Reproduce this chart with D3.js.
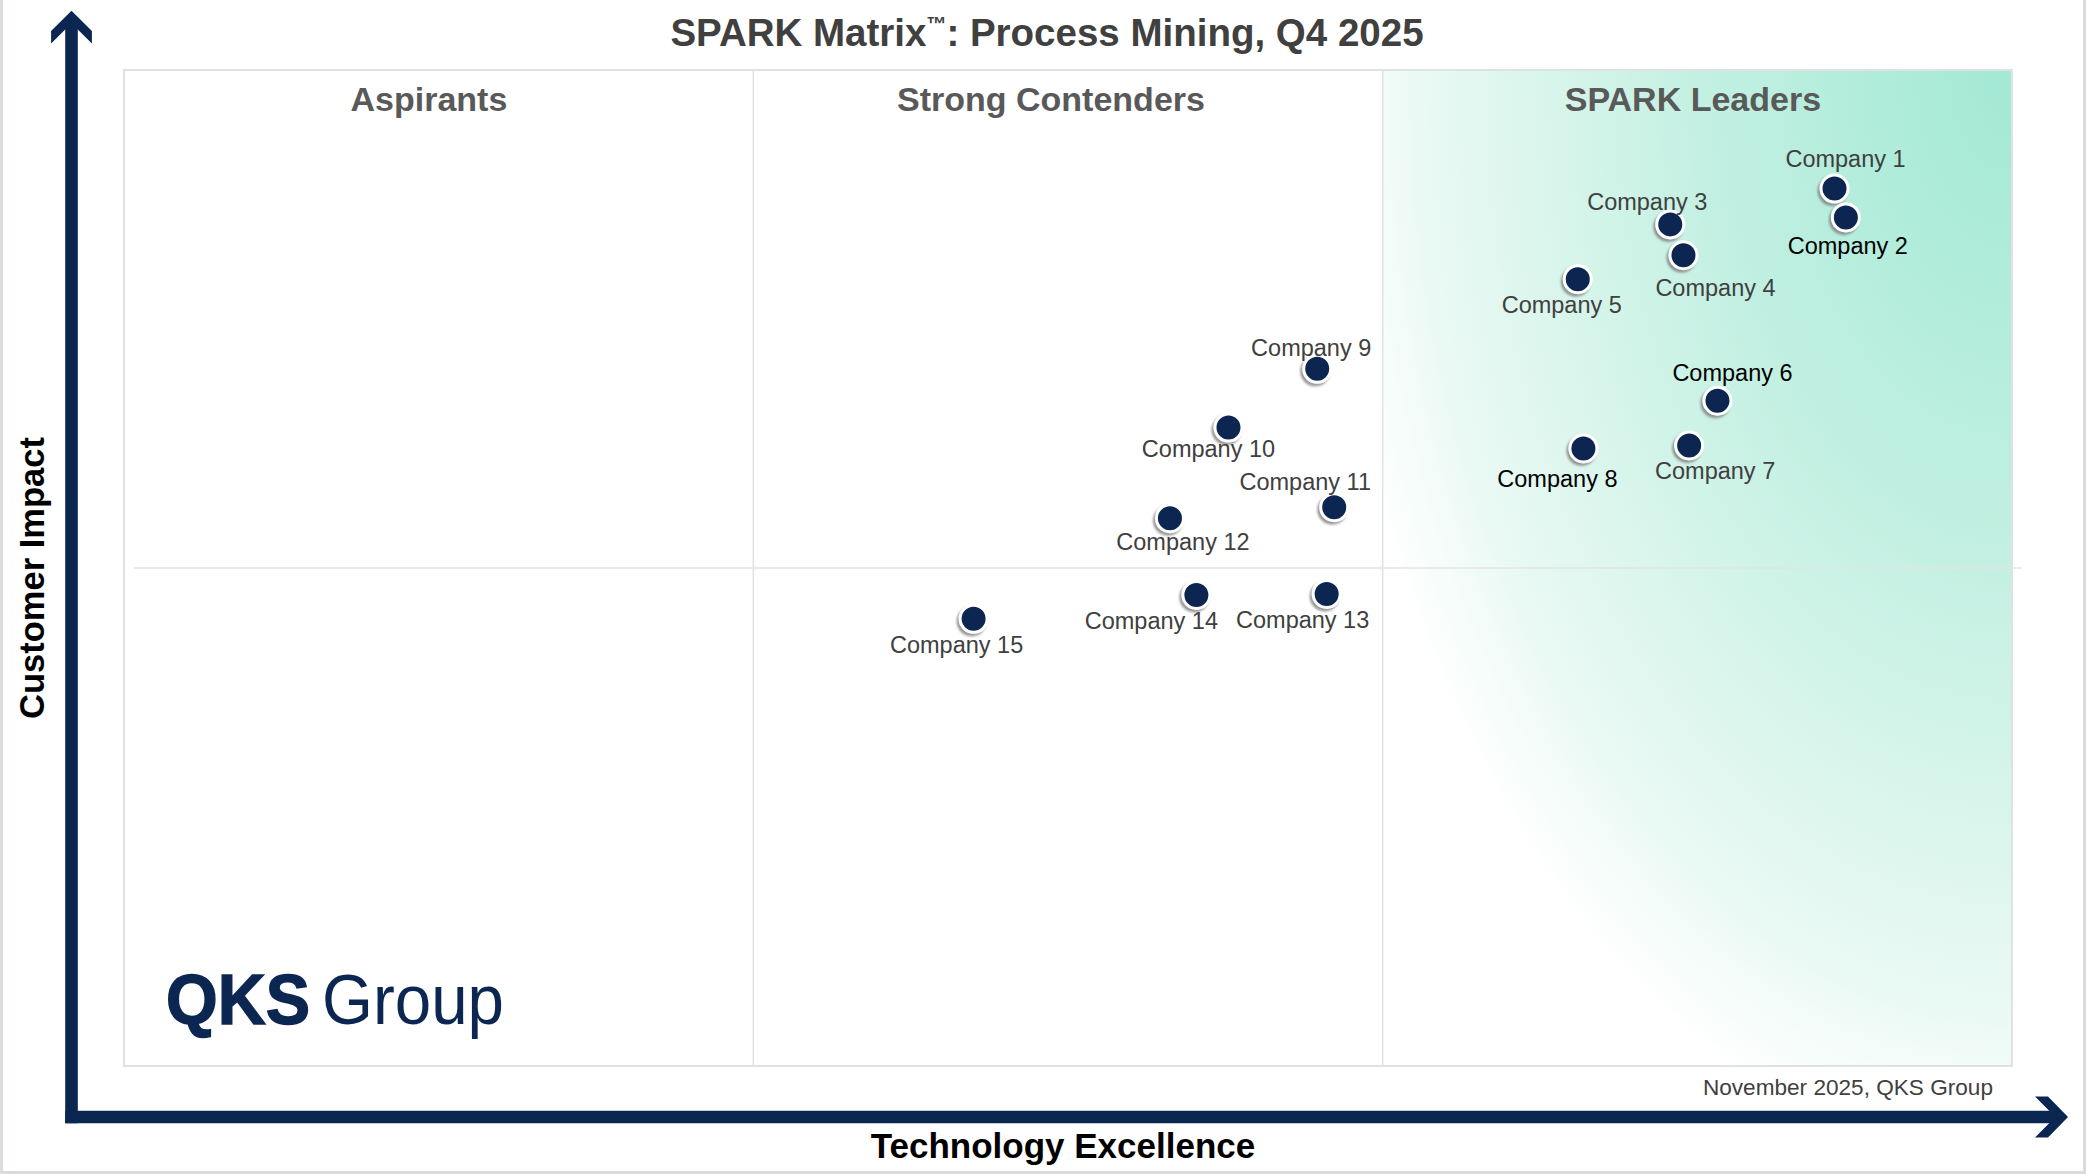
<!DOCTYPE html>
<html>
<head>
<meta charset="utf-8">
<script src="https://cdn.jsdelivr.net/npm/d3@7"></script>
<style>
  body { margin: 0; background: #fff; }
  svg { display: block; }
  text { font-family: "Liberation Sans", Arial, Helvetica, sans-serif; }
</style>
</head>
<body>
<div id="matrix"></div>
<script>
// vendor scores (0-100 on both axes)
var companies = ['Company 1', 'Company 2', 'Company 3', 'Company 4', 'Company 5',
  'Company 6', 'Company 7', 'Company 8', 'Company 9', 'Company 10',
  'Company 11', 'Company 12', 'Company 13', 'Company 14', 'Company 15'];
var technologyExcellence = [90.6, 91.2, 81.9, 82.6, 77.0, 84.4, 82.9, 77.3, 63.2, 58.5, 64.1, 55.4, 63.7, 56.8, 45.0];
var customerImpact = [88.1, 85.2, 84.5, 81.4, 79.0, 66.8, 62.3, 62.0, 70.0, 64.1, 56.1, 55.0, 47.4, 47.3, 44.9];
var quadrants = ['Aspirants', 'Strong Contenders', 'SPARK Leaders'];
var boldLabels = ['Company 2', 'Company 6', 'Company 8'];

// label placement relative to each dot (px)
var labelOffsets = [[11, -22], [2, 37], [-23, -14], [32, 41], [-16, 34], [15, -20], [26, 34],
  [-26, 39], [-6, -13], [-20, 29], [-29, -17], [13, 32], [-24, 34], [-45, 34], [-17, 34]];
var headerPos = [16.15, 49.1, 83.1];

var
  W = 2086, H = 1174,
  plot = { left: 124, right: 2012, top: 70, bottom: 1066 },
  navy = '#0a2651';

var svg = d3.select('#matrix').append('svg')
  .attr('width', W)
  .attr('height', H);

var x = d3.scaleLinear().domain([0, 100]).range([plot.left, plot.right]),
    y = d3.scaleLinear().domain([0, 100]).range([plot.bottom, plot.top]);

var defs = svg.append('defs');
var grad = defs.append('radialGradient')
  .attr('id', 'leaderGrad')
  .attr('cx', 1).attr('cy', 0).attr('r', 1.1)
  .attr('fx', 1).attr('fy', 0);
[[0, '#a2e9d4'], [0.45, '#c3f0e2'], [0.85, '#e9f9f3'], [1, '#ffffff']].forEach(function(s) {
  grad.append('stop').attr('offset', s[0]).attr('stop-color', s[1]);
});
var shadow = defs.append('filter').attr('id', 'dotShadow')
  .attr('x', '-50%').attr('y', '-50%').attr('width', '200%').attr('height', '200%');
shadow.append('feDropShadow')
  .attr('dx', -2).attr('dy', 2.5).attr('stdDeviation', 1.2)
  .attr('flood-color', '#777').attr('flood-opacity', 0.75);

// outer border (left, right, bottom)
svg.append('path')
  .attr('d', 'M1.5,0V' + (H - 1.5) + 'H' + (W - 1.5) + 'V0')
  .attr('fill', 'none').attr('stroke', '#d9dcdc').attr('stroke-width', 3);

// leaders background
svg.append('rect')
  .attr('x', x(200 / 3)).attr('y', plot.top)
  .attr('width', x(100) - x(200 / 3)).attr('height', plot.bottom - plot.top)
  .attr('fill', 'url(#leaderGrad)');

// frame & dividers
svg.append('rect')
  .attr('x', plot.left).attr('y', plot.top)
  .attr('width', plot.right - plot.left).attr('height', plot.bottom - plot.top)
  .attr('fill', 'none').attr('stroke', '#dfe2e2').attr('stroke-width', 2);

svg.selectAll('.vdiv')
  .data([100 / 3, 200 / 3])
  .enter().append('line')
    .attr('x1', function(d) { return x(d); })
    .attr('x2', function(d) { return x(d); })
    .attr('y1', plot.top).attr('y2', plot.bottom)
    .attr('stroke', '#e2e4e4').attr('stroke-width', 1.6);

svg.append('line')
  .attr('x1', x(0) + 10).attr('x2', x(100) + 10)
  .attr('y1', y(50)).attr('y2', y(50))
  .attr('stroke', '#e2e4e4').attr('stroke-width', 1.6);

// quadrant headers
svg.selectAll('.header')
  .data(quadrants)
  .enter().append('text')
    .attr('x', function(d, i) { return x(headerPos[i]); })
    .attr('y', 111)
    .attr('text-anchor', 'middle')
    .attr('font-size', 34)
    .attr('font-weight', 'bold')
    .attr('fill', '#595959')
    .text(function(d) { return d; });

// title
var title = svg.append('text')
  .attr('x', 1047).attr('y', 46)
  .attr('text-anchor', 'middle')
  .attr('font-size', 38.5)
  .attr('font-weight', 'bold')
  .attr('fill', '#404040');
title.append('tspan').text('SPARK Matrix');
title.append('tspan').attr('font-size', 20).attr('dy', -15).text('™');
title.append('tspan').attr('dy', 15).text(': Process Mining, Q4 2025');

// axes arrows
var ax = 71.5, ay = 1117;
svg.append('line')
  .attr('x1', ax).attr('x2', ax).attr('y1', 20).attr('y2', ay + 6.3)
  .attr('stroke', navy).attr('stroke-width', 12.6);
svg.append('line')
  .attr('x1', ax - 6.3).attr('x2', 2058).attr('y1', ay).attr('y2', ay)
  .attr('stroke', navy).attr('stroke-width', 12.6);
svg.append('polygon')
  .attr('points', [[ax, 10.7], [ax + 20.4, 31], [ax + 20.4, 43.5], [ax, 23.3], [ax - 20.4, 43.5], [ax - 20.4, 31]].join(' '))
  .attr('fill', navy);
svg.append('polygon')
  .attr('points', [[2068, ay], [2048, ay - 20.5], [2035, ay - 20.5], [2055.4, ay], [2035, ay + 20.5], [2048, ay + 20.5]].join(' '))
  .attr('fill', navy);

svg.append('text')
  .attr('x', 1063).attr('y', 1158)
  .attr('text-anchor', 'middle')
  .attr('font-size', 35)
  .attr('font-weight', 'bold')
  .attr('fill', '#000')
  .text('Technology Excellence');

svg.append('text')
  .attr('transform', 'translate(44,578) rotate(-90)')
  .attr('text-anchor', 'middle')
  .attr('font-size', 34.5)
  .attr('font-weight', 'bold')
  .attr('fill', '#000')
  .text('Customer Impact');

svg.append('text')
  .attr('x', 1993).attr('y', 1095)
  .attr('text-anchor', 'end')
  .attr('font-size', 22.6)
  .attr('fill', '#404040')
  .text('November 2025, QKS Group');

// logo
svg.append('text')
  .attr('x', 166).attr('y', 1024)
  .attr('font-size', 70)
  .attr('font-weight', 'bold')
  .attr('fill', navy)
  .attr('stroke', navy)
  .attr('stroke-width', 1.5)
  .attr('textLength', 144)
  .attr('lengthAdjust', 'spacingAndGlyphs')
  .text('QKS');
svg.append('text')
  .attr('x', 322).attr('y', 1024)
  .attr('font-size', 70)
  .attr('fill', navy)
  .attr('textLength', 182)
  .attr('lengthAdjust', 'spacingAndGlyphs')
  .text('Group');

// vendors
var vendors = companies.map(function(name, i) {
  return { name: name, tech: technologyExcellence[i], impact: customerImpact[i], off: labelOffsets[i] };
});

var g = svg.append('g');
g.selectAll('circle')
  .data(vendors)
  .enter().append('circle')
    .attr('cx', function(d) { return x(d.tech); })
    .attr('cy', function(d) { return y(d.impact); })
    .attr('r', 13.5)
    .attr('fill', navy)
    .attr('stroke', '#fff')
    .attr('stroke-width', 3)
    .attr('filter', 'url(#dotShadow)');

g.selectAll('text')
  .data(vendors)
  .enter().append('text')
    .attr('x', function(d) { return x(d.tech) + d.off[0]; })
    .attr('y', function(d) { return y(d.impact) + d.off[1]; })
    .attr('text-anchor', 'middle')
    .attr('font-size', 23.5)
    .attr('fill', function(d) { return boldLabels.indexOf(d.name) >= 0 ? '#000' : '#404040'; })
    .text(function(d) { return d.name; });
</script>
</body>
</html>
